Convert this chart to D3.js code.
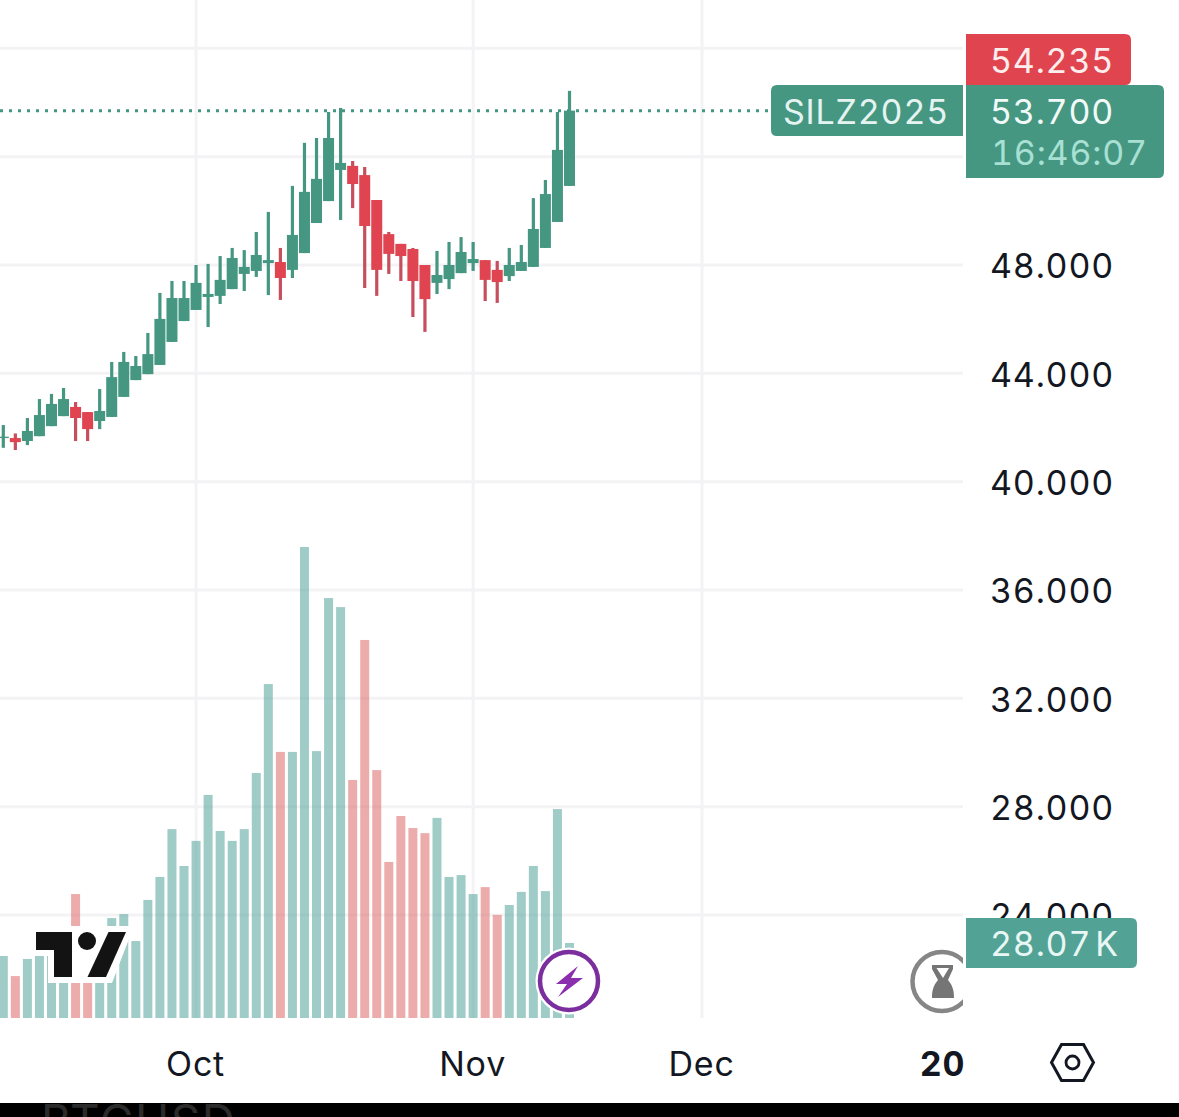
<!DOCTYPE html>
<html>
<head>
<meta charset="utf-8">
<script src="https://d3js.org/d3.v7.min.js"></script>
<style>
  html, body { margin: 0; padding: 0; background: #fff; overflow: hidden; }
  svg { display: block; }
  text { font-family: Inter, "Noto Sans", sans-serif; font-variant-numeric: tabular-nums; }
  .axis .domain, .axis line { display: none; }
  .axis text { font-size: 34px; fill: #131722; letter-spacing: 0.8px; }
  .grid line { stroke: #f3f3f5; stroke-width: 3; }
</style>
</head>
<body>
<svg id="chart" width="1179" height="1117"></svg>
<script>
const opens  = [41.61,41.61,41.50,41.68,42.05,42.42,42.76,42.57,42.24,42.39,43.13,43.75,43.97,44.31,45.16,45.93,46.34,46.82,46.86,47.11,47.67,47.78,48.07,48.11,47.82,48.44,49.55,50.36,51.51,51.66,51.32,50.40,49.14,48.78,48.59,48.00,47.34,47.48,47.70,48.07,48.18,47.82,47.59,47.78,47.93,48.63,49.59,50.92];
const closes = [41.66,41.46,41.87,42.46,42.87,43.05,42.35,41.94,42.61,43.86,44.42,44.27,44.71,46.01,46.78,46.78,47.34,46.93,47.45,48.26,47.93,48.37,48.18,47.52,49.11,50.70,51.18,52.69,51.77,50.99,49.44,47.82,48.41,48.33,47.41,46.74,47.63,48.00,48.48,48.22,47.45,47.37,48.00,48.11,49.33,50.62,52.25,53.70];
const highs  = [42.09,41.78,42.35,43.05,43.24,43.46,42.94,42.57,43.42,44.42,44.79,44.64,45.49,46.97,47.41,47.41,48.00,48.04,48.33,48.63,48.55,49.22,49.96,48.63,50.92,52.51,52.69,53.65,53.80,51.84,51.62,50.40,49.22,48.78,48.63,48.00,48.52,48.85,49.03,48.85,48.18,48.15,48.63,48.74,50.47,51.14,53.65,54.43];
const lows   = [41.25,41.17,41.35,41.68,42.05,42.42,41.50,41.50,41.94,42.39,43.13,43.75,43.97,44.31,45.16,45.93,46.34,45.71,46.56,47.11,47.04,47.56,46.89,46.71,47.52,48.44,49.55,50.36,49.66,50.10,47.15,46.86,47.67,47.41,46.08,45.53,46.93,47.11,47.70,47.78,46.67,46.60,47.41,47.78,47.93,48.63,49.59,50.92];
const volumes = [23.2,15.7,22.1,23.2,26.0,24.7,46.4,28.0,31.8,37.4,38.9,28.8,44.2,52.8,70.7,56.9,66.3,83.5,70.0,66.3,70.7,91.7,125.0,99.6,99.6,176.3,99.9,157.2,153.8,89.1,141.5,92.8,58.4,75.6,71.1,69.2,74.9,52.8,53.5,46.4,49.0,38.6,42.3,47.2,56.9,47.5,78.2,28.07];

const gridPrices = [56,52,48,44,40,36,32,28,24];
const priceTicks = [48,44,40,36,32,28,24];
const timeTicks = [16,39,58,78];
const timeLabels = ["Oct","Nov","Dec","20"];

const symbol = "SILZ2025";
const lastPrice = 53.70;
const highLabel = "54.235";
const lastLabel = "53.700";
const countdown = "16:46:07";
const volumeLabel = "28.07 K";

const GREEN = "#459782", RED = "#e04450", RED_WICK = "#c54f5c";

const svg = d3.select("#chart");

const x = d3.scaleLinear().domain([0, 47]).range([3.3, 569.5]);
const y = d3.scaleLinear().domain([48, 24]).range([265, 915]);
const yVol = d3.scaleLinear().domain([0, 176.3]).range([1018, 547]);

svg.append("defs").append("clipPath").attr("id", "pane")
  .append("rect").attr("x", 0).attr("y", 0).attr("width", 963).attr("height", 1018);

const pane = svg.append("g").attr("clip-path", "url(#pane)");

// gridlines
const grid = pane.append("g").attr("class", "grid");
grid.selectAll(".h").data(gridPrices).join("line").attr("class", "h")
  .attr("x1", 0).attr("x2", 963).attr("y1", d => y(d)).attr("y2", d => y(d));
grid.selectAll(".v").data(timeTicks.slice(0, 3)).join("line").attr("class", "v")
  .attr("y1", 0).attr("y2", 1018).attr("x1", d => x(d)).attr("x2", d => x(d));

// volume
pane.append("g").selectAll("rect").data(volumes).join("rect")
  .attr("x", (d, i) => x(i) - 4.5)
  .attr("width", 9)
  .attr("y", d => yVol(d))
  .attr("height", d => yVol(0) - yVol(d))
  .attr("fill", (d, i) => closes[i] >= opens[i] ? "#429a92" : "#dc5a5a")
  .attr("opacity", 0.5);

// last price line
pane.append("line")
  .attr("x1", 0).attr("x2", 771)
  .attr("y1", y(lastPrice)).attr("y2", y(lastPrice))
  .attr("stroke", GREEN).attr("stroke-width", 3).attr("stroke-dasharray", "3,6");

// candles
const candles = pane.append("g");
candles.selectAll(".wick").data(opens).join("rect").attr("class", "wick")
  .attr("x", (d, i) => x(i) - 1.6).attr("width", 3.2)
  .attr("y", (d, i) => y(highs[i]))
  .attr("height", (d, i) => y(lows[i]) - y(highs[i]))
  .attr("fill", (d, i) => closes[i] >= opens[i] ? GREEN : RED_WICK);
candles.selectAll(".body").data(opens).join("rect").attr("class", "body")
  .attr("x", (d, i) => x(i) - 5.5).attr("width", 11)
  .attr("y", (d, i) => y(Math.max(opens[i], closes[i])))
  .attr("height", (d, i) => Math.abs(y(opens[i]) - y(closes[i])))
  .attr("fill", (d, i) => closes[i] >= opens[i] ? GREEN : RED);

// axes
svg.append("g").attr("class", "axis")
  .attr("transform", "translate(982,2)")
  .call(d3.axisRight(y).tickValues(priceTicks).tickSize(0).tickFormat(d3.format(".3f")))
  .selectAll("text").attr("x", 8);

svg.append("g").attr("class", "axis")
  .attr("transform", "translate(-1,1045)")
  .call(d3.axisBottom(x).tickValues(timeTicks).tickSize(0).tickFormat((d, i) => timeLabels[i]))
  .selectAll("text")
  .attr("y", 7)
  .style("font-weight", (d, i) => timeLabels[i] === "20" ? 700 : 400);

// tradingview logo
const logo = svg.append("g");
logo.append("path").attr("fill", "#fff")
  .attr("d", "M30,926H134L112,983H48V956H30Z");
logo.append("path").attr("fill", "#131313")
  .attr("d", "M36,932H72V977H54V950H36Z");
logo.append("circle").attr("cx", 87).attr("cy", 941).attr("r", 9).attr("fill", "#131313");
logo.append("path").attr("fill", "#131313")
  .attr("d", "M108.5,932H126L106,977H87.5Z");

// lightning icon
const bolt = svg.append("g").attr("transform", "translate(569,981)");
bolt.append("circle").attr("r", 33.5).attr("fill", "#fff");
bolt.append("circle").attr("r", 29).attr("fill", "#fff").attr("stroke", "#7b2f9e").attr("stroke-width", 4.5);
bolt.append("path").attr("fill", "#8c2fae")
  .attr("d", "M9,-15L-13,3H-2L-11,16L14,-3H2Z");

// hourglass icon
const glass = svg.append("g").attr("clip-path", "url(#pane)");
glass.append("circle").attr("cx", 942).attr("cy", 981.5).attr("r", 29.5)
  .attr("fill", "#fff").attr("stroke", "#868686").attr("stroke-width", 4.5);
glass.append("path").attr("fill", "#757575")
  .attr("d", "M932,965H953V969L948,980C953,986 954,991 954,998H932C932,991 933,986 938,980L932,969Z");
glass.append("path").attr("fill", "#fff").attr("d", "M936.5,968H949L943,978Z");

// settings icon
const gear = svg.append("g").attr("transform", "translate(1072.5,1062.5)")
  .attr("fill", "none").attr("stroke", "#131722");
gear.append("path").attr("stroke-width", 3)
  .attr("d", "M-21,0L-11,-18H11L21,0L11,18H-11Z");
gear.append("circle").attr("r", 6.5).attr("stroke-width", 2.8);

// price and symbol badges
function topRound(x0, y0, w, h, r) {
  return `M${x0},${y0}H${x0 + w - r}Q${x0 + w},${y0} ${x0 + w},${y0 + r}V${y0 + h - r}Q${x0 + w},${y0 + h} ${x0 + w - r},${y0 + h}H${x0}Z`;
}
svg.append("path").attr("fill", "#e0454f").attr("d", topRound(966, 34, 165, 51, 6));
svg.append("path").attr("fill", GREEN).attr("d", topRound(966, 85, 198, 93, 6));
svg.append("path").attr("fill", "#52a396").attr("d", topRound(966, 918, 171, 50, 6));
svg.append("path").attr("fill", GREEN)
  .attr("d", "M963,85H777Q771,85 771,91V130Q771,136 777,136H963Z");

const badgeText = [
  [symbol, 783, 124, "#e6f4f1"],
  [highLabel, 990, 73, "#fdeeee"],
  [lastLabel, 990, 124, "#f2faf8"],
  [countdown, 991, 165, "#a8e0d3"],
  [volumeLabel, 990, 956, "#e9f7f4"]
];
svg.append("g").selectAll("text").data(badgeText).join("text")
  .attr("x", d => d[1]).attr("y", d => d[2]).attr("fill", d => d[3])
  .attr("font-size", 34).attr("letter-spacing", 0.8).attr("word-spacing", -6)
  .text(d => d[0]);

// black strip at the bottom
svg.append("rect").attr("x", 0).attr("y", 1103).attr("width", 1179).attr("height", 14).attr("fill", "#000");
svg.append("text").attr("x", 41).attr("y", 1138).attr("font-size", 46).attr("letter-spacing", 1.5).attr("fill", "#2b2b2b").text("BTCUSD");
</script>
</body>
</html>
